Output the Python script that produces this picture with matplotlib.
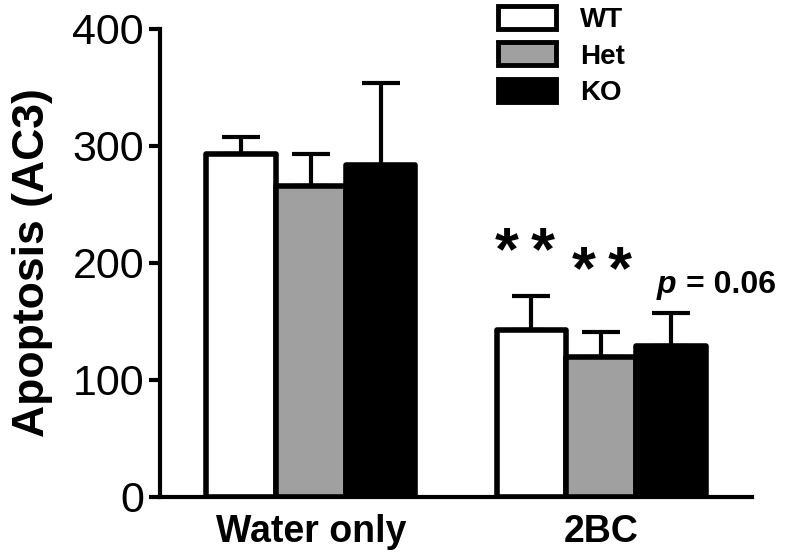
import matplotlib.pyplot as plt
import numpy as np
from matplotlib.patches import Patch

plt.rcParams['font.family'] = ['Liberation Sans', 'DejaVu Sans']

# data
groups = ['Water only', '2BC']
genotypes = ['WT', 'Het', 'KO']
colors = ['white', '#a0a0a0', 'black']
means = {
    'WT': [293, 143],
    'Het': [266, 120],
    'KO': [284, 129],
}
sem = {
    'WT': [15, 29],
    'Het': [27, 21],
    'KO': [70, 28],
}

fig = plt.figure(figsize=(8, 5.6), dpi=100)
ax = fig.add_axes([0.2, 0.1125, 0.74, 0.836])

x = np.arange(len(groups))
w = 0.24
for i, g in enumerate(genotypes):
    pos = x + (i - 1) * w
    ax.bar(pos, means[g], w, color=colors[i], edgecolor='black', linewidth=4,
           joinstyle='round', zorder=2)
    ax.errorbar(pos, means[g], yerr=[np.zeros(len(groups)), sem[g]], fmt='none',
                ecolor='black', elinewidth=3, capsize=14, capthick=3, zorder=1)

ax.set_xlim(-0.52, 1.52)
ax.set_ylim(0, 400)
ax.set_yticks([0, 100, 200, 300, 400])
ax.set_xticks(x)
ax.set_xticklabels(groups, fontsize=27, fontweight='bold')
ax.tick_params(axis='y', labelsize=31, width=3, length=8)
ax.tick_params(axis='x', length=0, pad=12)
ax.spines['top'].set_visible(False)
ax.spines['right'].set_visible(False)
ax.spines['left'].set_linewidth(3)
ax.spines['bottom'].set_linewidth(3)
ax.set_ylabel('Apoptosis (AC3)', fontsize=32, fontweight='bold', labelpad=14)

# significance marks
ax.text(0.738, 207, '*\u2009*', ha='center', va='center', fontsize=44, fontweight='bold')
ax.text(1.003, 191, '*\u2009*', ha='center', va='center', fontsize=44, fontweight='bold')
ax.text(1.193, 174, 'p', ha='left', va='baseline', fontsize=23,
        fontweight='bold', fontstyle='italic')
ax.text(1.292, 174, '= 0.06', ha='left', va='baseline', fontsize=23, fontweight='bold')

handles = [Patch(facecolor=c, edgecolor='black', linewidth=3.5, joinstyle='round')
           for c in colors]
fig.legend(handles, genotypes, loc='upper left', bbox_to_anchor=(0.6225, 0.99),
           frameon=False, prop={'size': 20, 'weight': 'bold'}, borderpad=0,
           borderaxespad=0, handlelength=2.1, handleheight=0.9,
           labelspacing=0.35, handletextpad=0.85)

fig.savefig('out.png', dpi=100)
